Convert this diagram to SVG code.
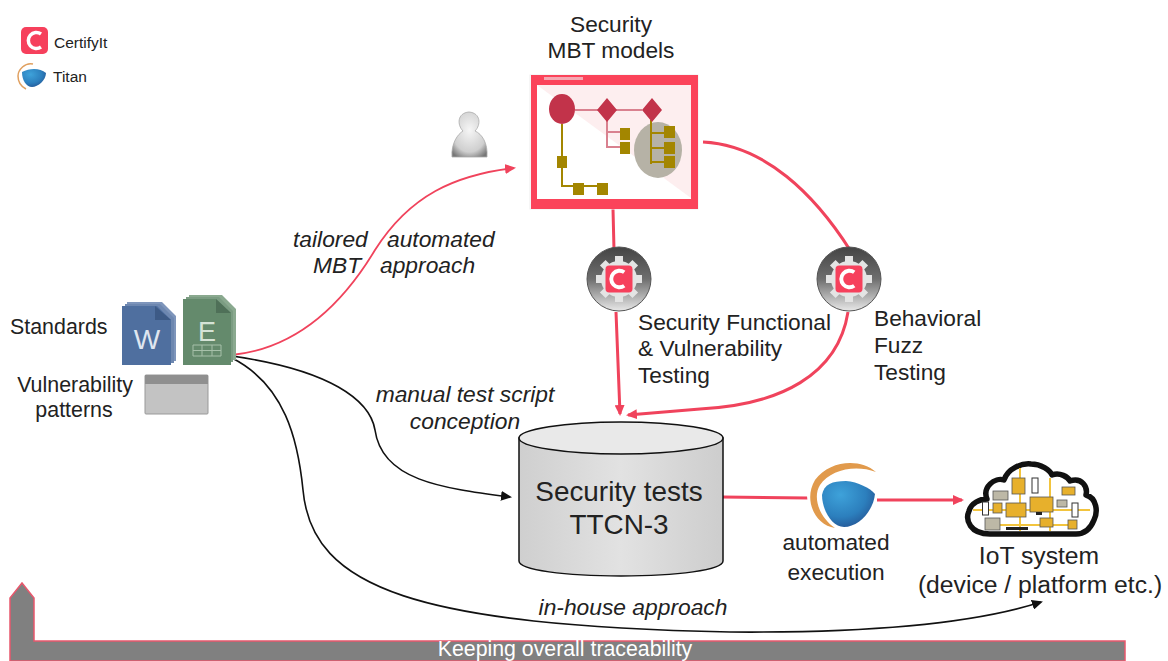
<svg xmlns="http://www.w3.org/2000/svg" width="1168" height="661" viewBox="0 0 1168 661">
<style>
text{font-family:"Liberation Sans",Arial,sans-serif;fill:#222}
.t{font-size:22.700px}
.n{font-size:21.400px}
.i{font-size:22.800px;font-style:italic}
.s{font-size:15.500px}
.big{font-size:27.900px}
.iot{font-size:24.700px}
.red{fill:none;stroke:#f0435c;stroke-width:3}
.blk{fill:none;stroke:#111;stroke-width:1.6}
.ol{fill:#a38600}
.ln{fill:none;stroke:#a38600;stroke-width:2}
.pl{fill:none;stroke:#d9818f;stroke-width:2}
.gear{fill:#e4e4e4}
</style>
<defs>
<marker id="ar" markerWidth="11" markerHeight="10" refX="9" refY="5" orient="auto" markerUnits="userSpaceOnUse"><path d="M0 0L11 5L0 10z" fill="#f0435c"/></marker>
<marker id="ak" markerWidth="11" markerHeight="10" refX="9" refY="5" orient="auto" markerUnits="userSpaceOnUse"><path d="M0 0L11 5L0 10z" fill="#111"/></marker>
<linearGradient id="gm" x1="0" y1="0" x2="0" y2="1"><stop offset="0" stop-color="#444"/><stop offset=".5" stop-color="#6e6e6e"/><stop offset="1" stop-color="#e8e8e8"/></linearGradient>
<linearGradient id="cy" x1="0" y1="0" x2="1" y2="0"><stop offset="0" stop-color="#cfcfcf"/><stop offset=".5" stop-color="#e2e2e2"/><stop offset="1" stop-color="#cdcdcd"/></linearGradient>
<radialGradient id="pe" cx=".5" cy=".4" r=".7"><stop offset="0" stop-color="#f6f6f6"/><stop offset=".7" stop-color="#cfcfcf"/><stop offset="1" stop-color="#777"/></radialGradient>
<radialGradient id="bl" cx=".35" cy=".3" r=".8"><stop offset="0" stop-color="#3ea2da"/><stop offset=".6" stop-color="#2c7fbd"/><stop offset="1" stop-color="#23508f"/></radialGradient>
<g id="cfy"><rect x="-9" y="-9" width="18" height="18" rx="2.500" fill="#f6405c"/><path d="M3.500 -4.500A5.500 5.500 0 1 0 3.500 4.500" fill="none" stroke="#fff" stroke-width="2.600"/></g>
<g id="mbtgear"><circle r="32" fill="url(#gm)" stroke="#555"/><circle r="18" class="gear"/><g class="gear"><rect x="-4" y="-23" width="8" height="46"/><rect x="-23" y="-4" width="46" height="8"/><rect x="-4" y="-23" width="8" height="46" transform="rotate(45)"/><rect x="-4" y="-23" width="8" height="46" transform="rotate(-45)"/></g><use href="#cfy" transform="scale(1.500)"/></g>
</defs>

<g id="connectors">
<path class="red" style="stroke-width:1.800" d="M232 355C300 348 345 300 375 250C410 195 455 175 514 168" marker-end="url(#ar)"/>
<path class="blk" d="M232 356C330 370 370 400 375 430C382 480 440 488 510 497" marker-end="url(#ak)"/>
<path class="blk" d="M232 358C285 385 298 440 303 490C312 590 420 625 730 632C860 633 970 625 1041 602" marker-end="url(#ak)"/>
<path class="red" d="M613 209L614 250M616 312L620 414" marker-end="url(#ar)"/>
<path class="red" d="M703 142C765 145 815 195 850 250M848 312C838 375 780 405 700 409L628 415" marker-end="url(#ar)"/>
<path class="red" d="M722 497L808 498M877 500L962 500" marker-end="url(#ar)"/>
</g>

<g id="legend">
<rect x="21" y="27" width="27" height="27" rx="5" fill="#f6405c"/>
<path d="M41 34A8 8 0 1 0 41 47" fill="none" stroke="#fff" stroke-width="3.500"/>
<path d="M38 38L46 33" stroke="#f6405c" stroke-width="2"/>
<text class="s" x="54" y="48">CertifyIt</text>
<path d="M33 64C25 62 18 70 18 76C18 83 22 87 26 89" fill="none" stroke="#e0a060" stroke-width="1.500"/>
<path d="M22 72C30 68 40 68 46 73C46 80 38 87 32 87C26 87 22 80 22 72z" fill="url(#bl)"/>
<text class="s" x="53" y="82">Titan</text>
</g>

<g id="person">
<path d="M452 157C451 143 458 134 463 131C457 125 457 113 469 112C481 113 481 125 475 131C482 134 488 143 487 157z" fill="url(#pe)" stroke="#aaa" stroke-width=".8"/>
</g>

<g id="models">
<text class="t" x="611" y="32" text-anchor="middle">Security</text>
<text class="t" x="611" y="58" text-anchor="middle">MBT models</text>
<rect x="530" y="75" width="168" height="134" fill="#fff" stroke="#eee"/>
<path d="M537 85L691 198V85z" fill="#fdeeef"/>
<path fill-rule="evenodd" d="M531 75H698V209H531zM537 85V199H691V85z" fill="#fb435a"/>
<rect x="544" y="77" width="39" height="3" fill="#f5a8b2"/>
<ellipse cx="658" cy="150" rx="24" ry="28" fill="#b6b2a6"/>
<path class="pl" d="M575 110H642M607 120V148M607 132H622M607 147H622"/>
<path class="ln" d="M562 124V186H602M651 120V164M651 133H668M651 148H668M651 162H668"/>
<ellipse cx="562" cy="109" rx="13" ry="15" fill="#c2334a"/>
<path d="M607 98L617 110L607 122L597 110zM652 98L662 110L652 122L642 110z" fill="#c2334a"/>
<g class="ol"><rect x="557" y="156" width="10" height="12"/><rect x="573" y="183" width="11" height="12"/><rect x="597" y="183" width="11" height="12"/><rect x="620" y="128" width="10" height="12"/><rect x="620" y="142" width="10" height="12"/><rect x="664" y="126" width="11" height="12"/><rect x="664" y="142" width="11" height="12"/><rect x="664" y="156" width="11" height="12"/></g>
</g>

<g id="docs">
<text class="n" x="10" y="334">Standards</text>
<text class="n" x="75" y="392" text-anchor="middle">Vulnerability</text>
<text class="n" x="74" y="417" text-anchor="middle">patterns</text>
<path d="M127 302H162L176 316V361H127z" fill="#7e95bb"/>
<path d="M125 304H160L174 318V363H125z" fill="#6d87b0"/>
<path d="M122 306H157L171 320V365H122z" fill="#4f6f9f"/>
<path d="M155 306L171 320H155z" fill="#3d5a86"/>
<text x="147" y="349" text-anchor="middle" style="font-size:28px;fill:#dfe6f0">W</text>
<path d="M189 295H222L236 309V360H189z" fill="#8aa98f"/>
<path d="M186 297H219L233 311V362H186z" fill="#7b9c82"/>
<path d="M183 299H216L231 313V365H183z" fill="#648a6c"/>
<path d="M216 299L231 313H216z" fill="#4f7058"/>
<text x="207" y="341" text-anchor="middle" style="font-size:27px;fill:#d5e3d6">E</text>
<path d="M193 345H221V356H193zM193 350.500H221M202 345V356M212 345V356" fill="none" stroke="#a6c0a9"/>
<rect x="145" y="375" width="63" height="39" rx="1" fill="#c3c3c3" stroke="#999"/>
<rect x="145" y="375" width="63" height="9" fill="#8f8f8f"/>
</g>

<g id="labels">
<text class="i" x="293" y="247">tailored</text><text class="i" x="387" y="247">automated</text>
<text class="i" x="313" y="273">MBT</text><text class="i" x="380" y="273">approach</text>
<text class="i" x="465" y="402" text-anchor="middle">manual test script</text>
<text class="i" x="465" y="429" text-anchor="middle">conception</text>
<text class="i" x="633" y="615" text-anchor="middle">in-house approach</text>
<text class="t" x="638" y="330">Security Functional</text>
<text class="t" x="638" y="356">&amp; Vulnerability</text>
<text class="t" x="638" y="383">Testing</text>
<text class="t" x="874" y="326">Behavioral</text>
<text class="t" x="874" y="353">Fuzz</text>
<text class="t" x="874" y="380">Testing</text>
</g>

<g id="gear1"><use href="#mbtgear" x="619" y="279"/></g>
<g id="gear2"><use href="#mbtgear" x="849" y="279"/></g>

<g id="tests">
<path d="M519 438V561C519 570 565 576 621 576S723 570 723 561V438z" fill="url(#cy)" stroke="#111" stroke-width="1.500"/>
<ellipse cx="621" cy="438" rx="102" ry="16" fill="#e9e9e9" stroke="#111" stroke-width="1.500"/>
<text class="big" x="619" y="501" text-anchor="middle">Security tests</text>
<text class="big" x="619" y="534" text-anchor="middle">TTCN-3</text>
</g>

<g id="titan">
<circle cx="842" cy="496" r="35" fill="#fff"/>
<path d="M876 472C860 458 830 460 815 480C803 500 815 525 835 528C820 518 812 498 820 485C830 470 855 464 876 472z" fill="#e19a4c"/>
<path d="M822 495C824 484 832 481 846 481C858 482 870 488 875 494C873 512 858 527 844 527C832 527 822 510 822 495z" fill="url(#bl)"/>
<text class="t" x="836" y="550" text-anchor="middle">automated</text>
<text class="t" x="836" y="580" text-anchor="middle">execution</text>
</g>

<g id="iot">
<path d="M990 534C970 534 965 520 969 511C971 503 980 499 987 499C982 487 995 477 1004 480C1008 468 1022 463 1031 464C1041 464 1050 470 1052 475C1060 472 1068 477 1070 481C1082 477 1088 487 1086 495C1097 498 1098 512 1094 520C1090 530 1084 534 1076 534z" fill="#fff" stroke="#111" stroke-width="5.500" stroke-linejoin="round"/>
<path d="M973 510H1090M1020 468V531M1050 478V531M995 525H1075" fill="none" stroke="#f2c43e" stroke-width="2"/>
<g fill="#e7b02c" stroke="#555" stroke-width=".8"><rect x="1012" y="478" width="13" height="16"/><rect x="1030" y="497" width="23" height="15"/><rect x="1006" y="503" width="20" height="14"/><rect x="993" y="503" width="9" height="10"/><rect x="1062" y="487" width="13" height="8"/><rect x="1040" y="518" width="13" height="9"/><rect x="1068" y="520" width="9" height="9"/></g>
<path d="M1036 512h6v3h-6zM1006 527h22v3h-22z" fill="#222"/>
<g fill="#bdb8a6" stroke="#555" stroke-width=".8"><rect x="993" y="491" width="15" height="9"/><rect x="985" y="518" width="15" height="12"/><rect x="1057" y="500" width="10" height="7"/></g>
<g fill="#fff" stroke="#333"><rect x="982.500" y="502" width="6" height="13"/><rect x="1032" y="478" width="6" height="15"/><rect x="1072" y="503" width="6" height="14"/></g>
<text class="iot" x="1039" y="564" text-anchor="middle">IoT system</text>
<text class="iot" x="1040" y="593" text-anchor="middle">(device / platform etc.)</text>
</g>

<g id="trace">
<path d="M10 661V598L22 583L34 598V641H1125V661z" fill="#808080" stroke="#e8576c" stroke-width="1.500"/>
<text x="565" y="656" text-anchor="middle" style="font-size:21.300px;fill:#fff">Keeping overall traceability</text>
</g>
</svg>
